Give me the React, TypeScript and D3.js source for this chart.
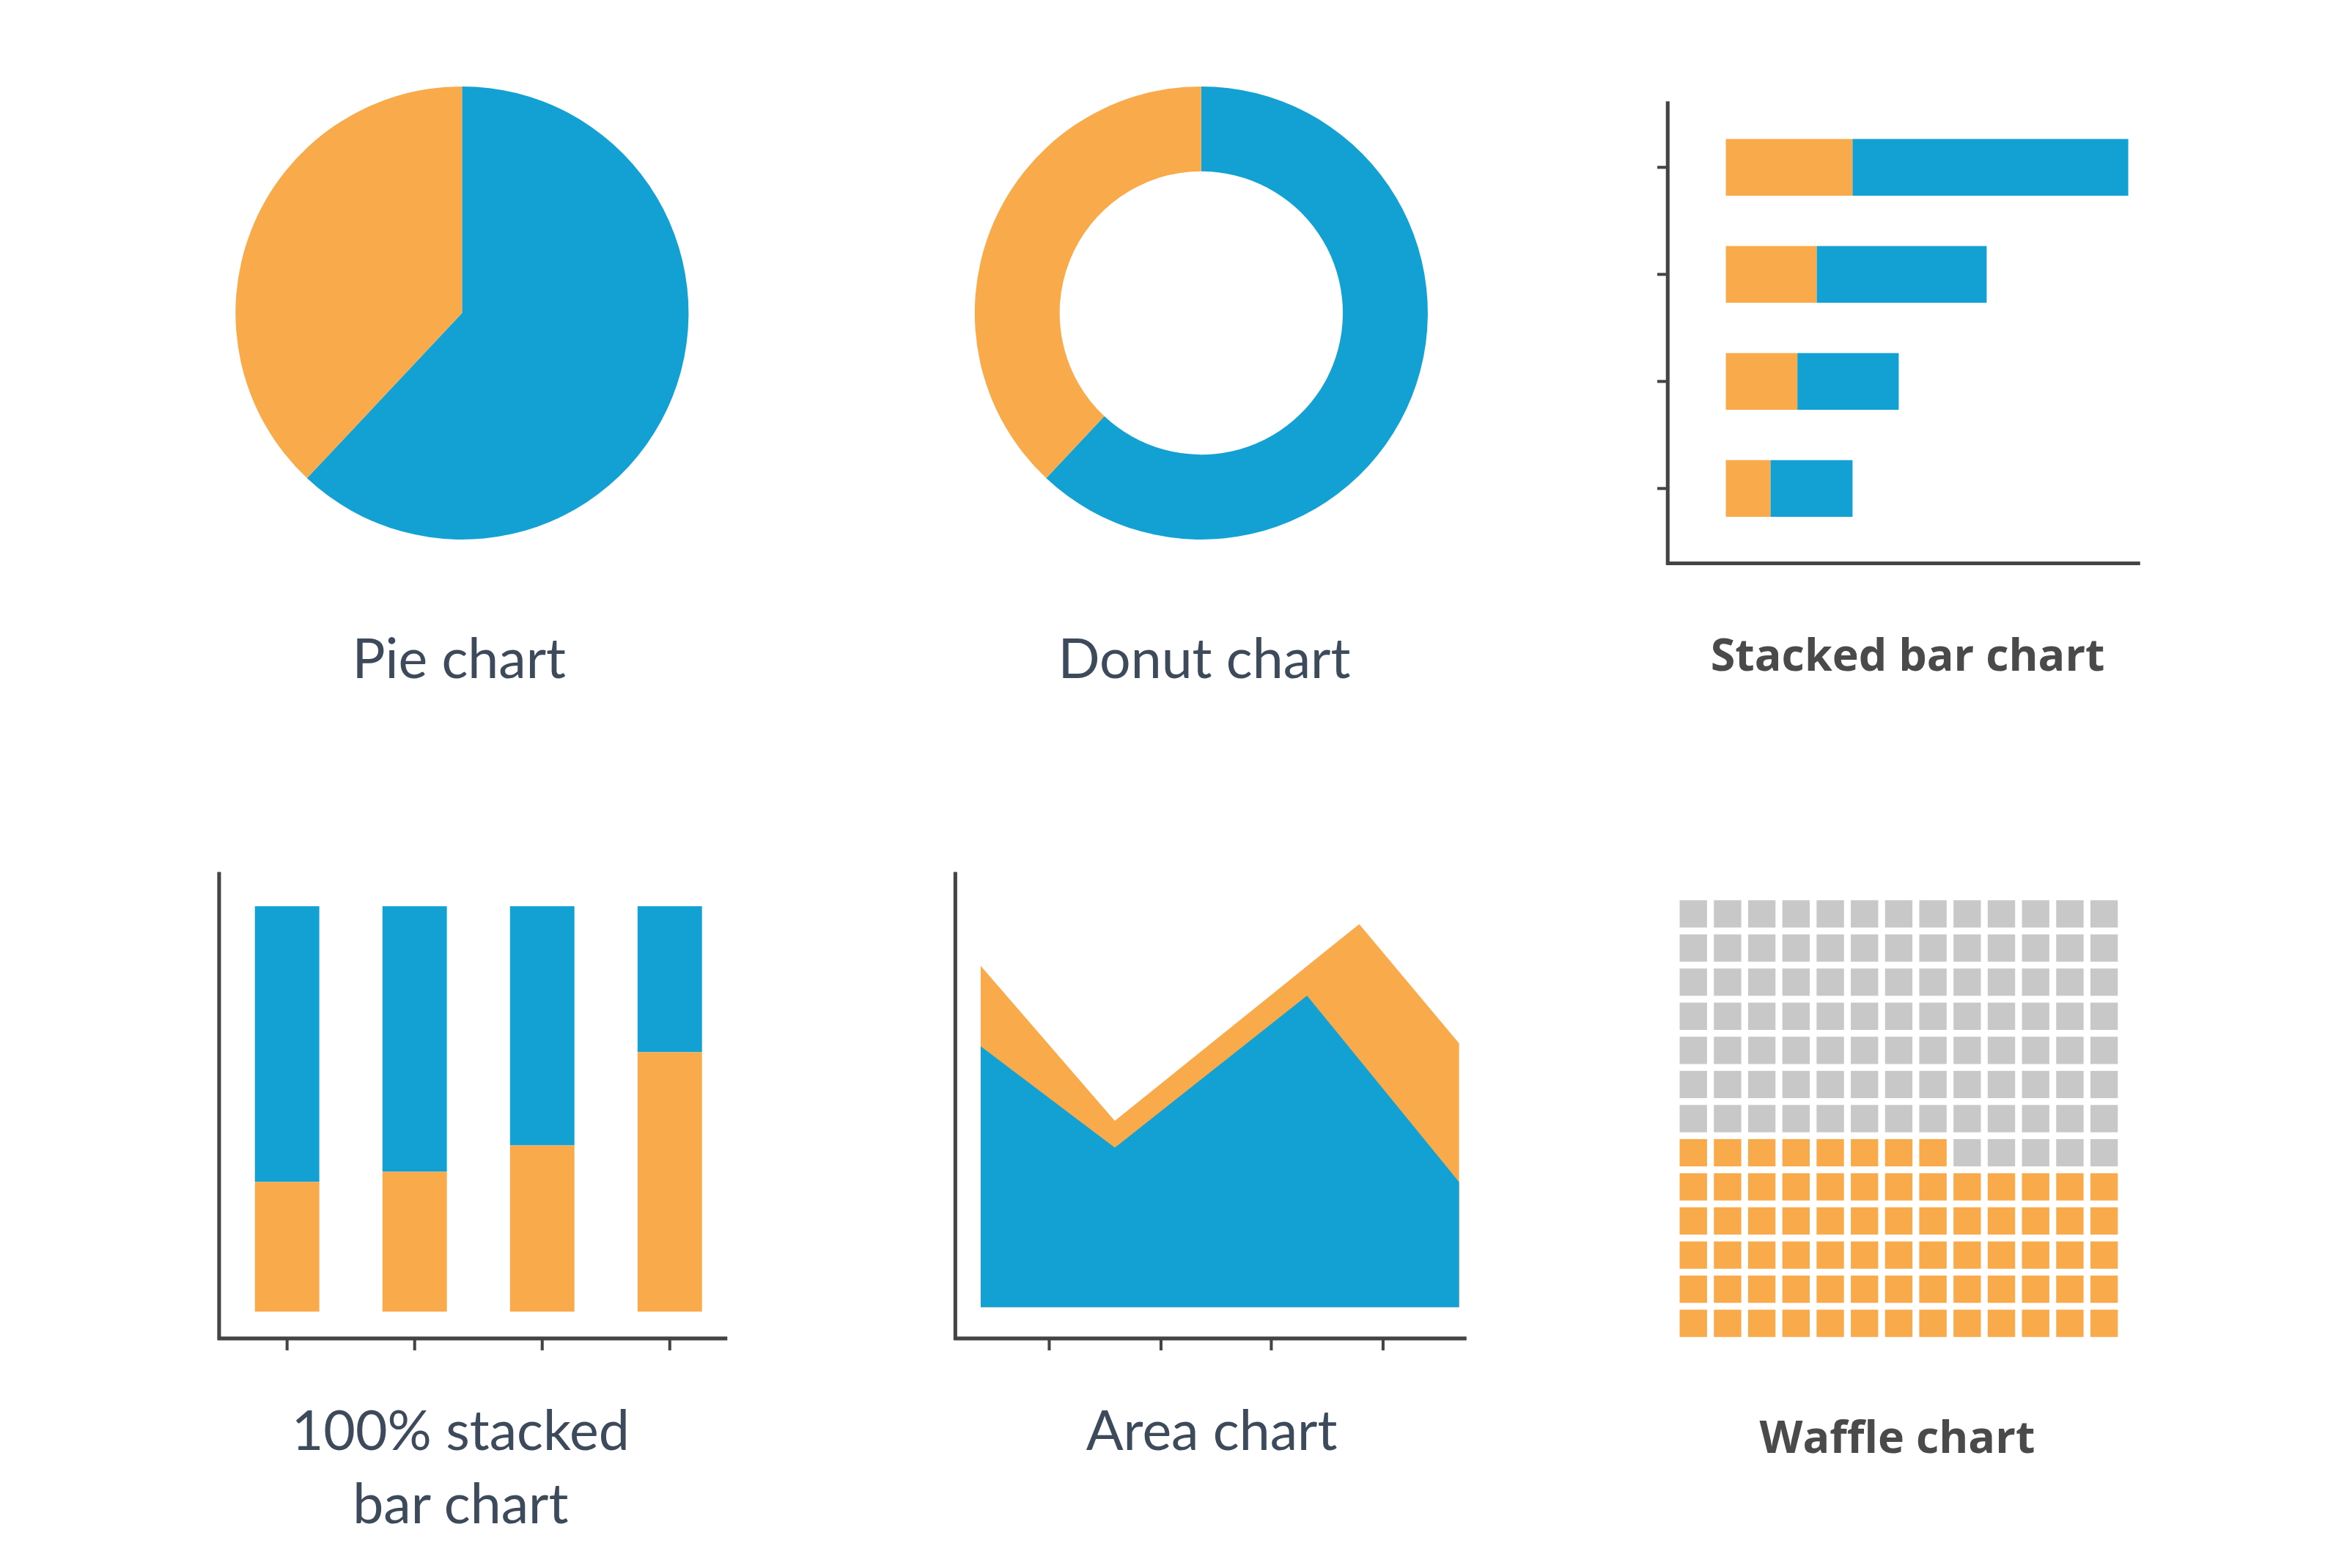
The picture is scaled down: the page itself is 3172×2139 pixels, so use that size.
import * as d3 from "d3";

// all positions below are in a 1560x1052 design space, scaled up by the viewBox
const BLUE = "#13a1d4";
const ORANGE = "#f9ab4c";
const GREY = "#c8c8c8";
const AXIS = "#444";

const pieValues = [62, 38];
const pieColors = [BLUE, ORANGE];

const barCats = ["a", "b", "c", "d"];
const barOrange = [85, 61, 48, 30];
const barBlue = [185, 114, 68, 55];

const pctCats = ["q1", "q2", "q3", "q4"];
const pctOrange = [32, 34.5, 41, 64];

const areaOrangeX = [0, 90, 254, 321];
const areaOrangeY = [229, 125, 257, 177];
const areaBlueX = [0, 90, 219, 321];
const areaBlueY = [175, 107, 209, 84];

const waffleCols = 13;
const waffleRows = 13;
const waffleOrange = 73;

const labelStyle = { fontFamily: "Lato, sans-serif", fontSize: 37, fill: "#3d4a5c" };
const boldStyle = { fontFamily: "'Open Sans', sans-serif", fontSize: 30, fontWeight: 700, fill: "#4a4a4a" };

const Pie = ({ cx, cy, inner }: { cx: number; cy: number; inner: number }) => {
  const arcs = d3.pie<number>().sort(null)(pieValues);
  const arc = d3.arc<d3.PieArcDatum<number>>().innerRadius(inner).outerRadius(152);
  return (
    <g transform={`translate(${cx},${cy})`}>
      {arcs.map((a, i) => <path key={i} d={arc(a) || ""} fill={pieColors[i]} />)}
    </g>
  );
};

const StackedBar = () => {
  const y = d3.scaleBand().domain(barCats).range([76, 364]).paddingInner(0.47).paddingOuter(0.24);
  const x = d3.scaleLinear().domain([0, 270]).range([1158, 1428]);
  return (
    <g>
      <line x1={1119} x2={1119} y1={68} y2={379} stroke={AXIS} strokeWidth={2.5} />
      <line x1={1118} x2={1436} y1={378} y2={378} stroke={AXIS} strokeWidth={2.5} />
      {barCats.map((c, i) => {
        const yc = (y(c) as number) + y.bandwidth() / 2;
        return (
          <g key={c}>
            <line x1={1112} x2={1119} y1={yc} y2={yc} stroke={AXIS} strokeWidth={2} />
            <rect x={x(0)} y={y(c)} width={x(barOrange[i]) - x(0)} height={y.bandwidth()} fill={ORANGE} />
            <rect x={x(barOrange[i])} y={y(c)} width={x(barOrange[i] + barBlue[i]) - x(barOrange[i])} height={y.bandwidth()} fill={BLUE} />
          </g>
        );
      })}
    </g>
  );
};

const PercentBar = () => {
  const x = d3.scaleBand().domain(pctCats).range([171, 471]).paddingInner(0.495).paddingOuter(0.0);
  const y = d3.scaleLinear().domain([0, 100]).range([880, 608]);
  return (
    <g>
      <line x1={147} x2={147} y1={585} y2={899} stroke={AXIS} strokeWidth={2.5} />
      <line x1={146} x2={488} y1={898} y2={898} stroke={AXIS} strokeWidth={2.5} />
      {pctCats.map((c, i) => {
        const xc = (x(c) as number) + x.bandwidth() / 2;
        return (
          <g key={c}>
            <line x1={xc} x2={xc} y1={898} y2={906} stroke={AXIS} strokeWidth={2} />
            <rect x={x(c)} y={y(100)} width={x.bandwidth()} height={y(pctOrange[i]) - y(100)} fill={BLUE} />
            <rect x={x(c)} y={y(pctOrange[i])} width={x.bandwidth()} height={y(0) - y(pctOrange[i])} fill={ORANGE} />
          </g>
        );
      })}
    </g>
  );
};

const Area = () => {
  const x = d3.scaleLinear().domain([0, 321]).range([658, 979]);
  const y = d3.scaleLinear().domain([0, 300]).range([877, 577]);
  const area = d3.area<number[]>().x((d) => x(d[0])).y0(y(0)).y1((d) => y(d[1]));
  const orange = areaOrangeX.map((v, i) => [v, areaOrangeY[i]]);
  const blue = areaBlueX.map((v, i) => [v, areaBlueY[i]]);
  const ticks = [704, 779, 853, 928];
  return (
    <g>
      <path d={area(orange) || ""} fill={ORANGE} />
      <path d={area(blue) || ""} fill={BLUE} />
      <line x1={641} x2={641} y1={585} y2={899} stroke={AXIS} strokeWidth={2.5} />
      <line x1={640} x2={984} y1={898} y2={898} stroke={AXIS} strokeWidth={2.5} />
      {ticks.map((t) => <line key={t} x1={t} x2={t} y1={898} y2={906} stroke={AXIS} strokeWidth={2} />)}
    </g>
  );
};

const Waffle = () => {
  const x = d3.scaleBand().domain(d3.range(waffleCols).map(String)).range([1127, 1421]).paddingInner(0.2);
  const y = d3.scaleBand().domain(d3.range(waffleRows).map(String)).range([604, 897]).paddingInner(0.2);
  const cells = d3.range(waffleCols * waffleRows);
  return (
    <g>
      {cells.map((k) => {
        const rowFromBottom = Math.floor(k / waffleCols);
        const col = k % waffleCols;
        const row = waffleRows - 1 - rowFromBottom;
        return (
          <rect key={k} x={x(String(col))} y={y(String(row))} width={x.bandwidth()} height={y.bandwidth()}
            fill={k < waffleOrange ? ORANGE : GREY} />
        );
      })}
    </g>
  );
};

export default function App() {
  return (
    <svg width={3172} height={2139} viewBox="0 0 1560 1052" style={{ position: "absolute", left: 0, top: 0, background: "#fff" }}>
      <rect width={1560} height={1052} fill="#fff" />
      <Pie cx={310} cy={210} inner={0} />
      <Pie cx={806} cy={210} inner={95} />
      <StackedBar />
      <PercentBar />
      <Area />
      <Waffle />
      <text x={308} y={455} textAnchor="middle" style={labelStyle}>Pie chart</text>
      <text x={808} y={455} textAnchor="middle" style={labelStyle}>Donut chart</text>
      <text x={1280} y={450} textAnchor="middle" style={boldStyle}>Stacked bar chart</text>
      <text x={309} y={973} textAnchor="middle" style={labelStyle}>100% stacked</text>
      <text x={309} y={1022} textAnchor="middle" style={labelStyle}>bar chart</text>
      <text x={813} y={973} textAnchor="middle" style={labelStyle}>Area chart</text>
      <text x={1273} y={975} textAnchor="middle" style={boldStyle}>Waffle chart</text>
    </svg>
  );
}
